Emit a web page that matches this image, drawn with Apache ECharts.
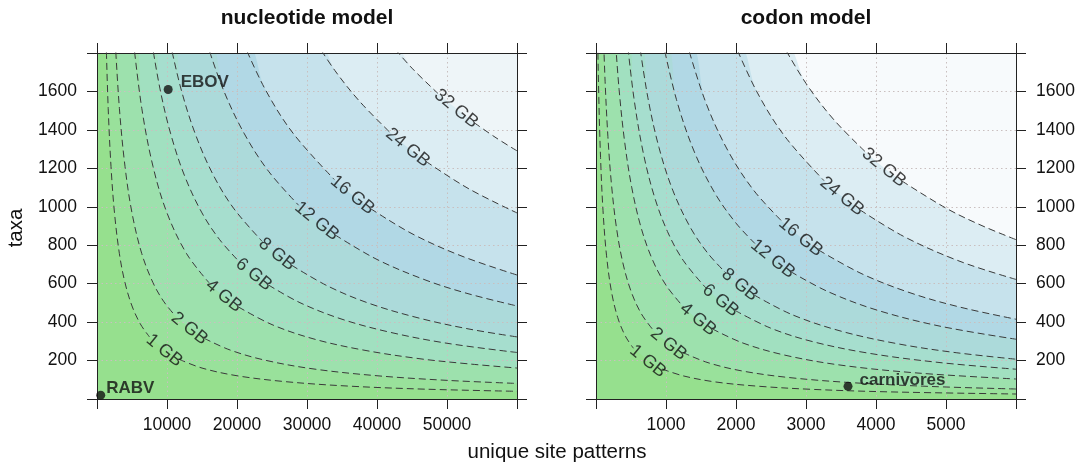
<!DOCTYPE html>
<html><head><meta charset="utf-8">
<script src="https://cdn.jsdelivr.net/npm/echarts@6/dist/echarts.min.js"></script>
<style>html,body{margin:0;padding:0;background:#fff}#c{width:1085px;height:466px}</style>
</head><body><div id="c"></div>
<script>
// ---- data ----
const levels = [1, 2, 4, 6, 8, 12, 16, 24, 32];           // GB contour levels
const nucXTickLabels = [10000, 20000, 30000, 40000, 50000];
const codXTickLabels = [1000, 2000, 3000, 4000, 5000];
const yTickLabels = [200, 400, 600, 800, 1000, 1200, 1400, 1600];

// nucleotide model contours: [unique site patterns, taxa]; null = gap under the label
const nuc1GB = [[1300,1862],[1600,1512],[2000,1210],[2500,968],[3200,756],[4000,605],[5000,484],[6200,390],[7500,323],null,[11700,207],[15000,161],[20000,121],[27000,90],[36000,67],[47000,51],[60000,40]];
const nuc2GB = [[2600,1862],[3200,1512],[4000,1210],[5000,968],[6400,756],[8000,605],[9500,509],[11100,436],null,[15300,316],[19000,255],[24000,202],[31000,156],[40000,121],[50000,97],[60000,81]];
const nuc4GB = [[5200,1862],[6400,1512],[8000,1210],[10000,968],[12800,756],[16000,605],null,[20200,479],[25000,387],[31000,312],[38000,255],[46000,210],[53000,183],[60000,161]];
const nuc6GB = [[7800,1862],[9000,1613],[10500,1383],[12500,1162],[15000,968],[17500,830],[20300,715],null,[24500,593],[29000,501],[35000,415],[42000,346],[50000,290],[60000,242]];
const nuc8GB = [[10400,1862],[12000,1613],[14000,1383],[16500,1173],[19500,993],[23600,820],null,[27800,696],[33000,587],[39000,496],[46000,421],[53000,365],[60000,323]];
const nuc12GB = [[15600,1862],[18000,1613],[21000,1383],[24500,1185],[28800,1008],null,[34000,854],[40000,726],[47000,618],[53000,548],[60000,484]];
const nuc16GB = [[20800,1862],[24000,1613],[28000,1383],[33900,1142],null,[39100,990],[45000,860],[52000,745],[60000,645]];
const nuc24GB = [[31200,1862],[34000,1708],[37500,1549],[41800,1389],null,[47000,1236],[53000,1096],[60000,968]];
const nuc32GB = [[41600,1862],[45000,1721],[48700,1590],null,[53900,1437],[57000,1359],[60000,1291]];
const nucLabelX = [9600, 13200, 18100, 22400, 25700, 31400, 36500, 44400, 51300];
const nucLabelY = [252, 367, 535, 648, 753, 925, 1061, 1308, 1510];
const nucPointNames = ['RABV', 'EBOV'];
const nucPointX = [530, 10170];
const nucPointY = [20, 1610];

// codon model contours
const cod1GB = [[22,1915],[40,1570],[65,1256],[100,981],[150,748],[220,561],[310,424],[420,327],[535,264],null,[945,156],[1250,120],[1700,89],[2300,67],[3100,50],[4200,37],[6000,26]];
const cod2GB = [[100,1963],[130,1653],[170,1365],[220,1121],[290,897],[380,714],[500,561],[650,442],[830,353],null,[1240,242],[1600,189],[2100,145],[2800,110],[3700,84],[4800,65],[6000,52]];
const cod4GB = [[270,1903],[330,1610],[410,1336],[510,1102],[640,897],[800,730],[1000,592],[1250,479],null,[1660,365],[2100,291],[2700,228],[3500,176],[4600,135],[6000,104]];
const cod6GB = [[440,1884],[540,1570],[670,1290],[830,1058],[1020,872],[1250,719],[1575,576],null,[1985,461],[2500,368],[3100,298],[3900,238],[4900,190],[6000,155]];
const cod8GB = [[610,1875],[740,1570],[900,1308],[1100,1083],[1350,891],[1600,757],[1850,658],null,[2260,541],[2800,439],[3500,353],[4300,288],[5100,243],[6000,207]];
const cod12GB = [[950,1865],[1150,1557],[1400,1290],[1700,1070],[2000,915],[2270,809],null,[2780,663],[3300,561],[4000,464],[4900,380],[6000,311]];
const cod16GB = [[1290,1861],[1560,1551],[1880,1295],[2250,1087],[2666,921],null,[3180,775],[3800,651],[4500,551],[5200,478],[6000,415]];
const cod24GB = [[1960,1865],[2300,1597],[2700,1365],[3257,1136],null,[3771,984],[4400,845],[5200,716],[6000,622]];
const cod32GB = [[2640,1861],[3000,1642],[3400,1452],[3857,1283],null,[4371,1134],[5000,993],[5500,904],[6000,829]];
const codLabelX = [740, 1036, 1457, 1780, 2054, 2526, 2923, 3514, 4114];
const codLabelY = [196, 286, 414, 512, 594, 729, 842, 1054, 1204];
const codPointNames = ['carnivores'];
const codPointX = [3600];
const codPointY = [66];

// ---- styling ----
const FONT = 'Liberation Sans, Arial, Helvetica, sans-serif';
const TXT = '#111111';
const bandColors = ['#96E08E','#99E19B','#9DE1AD','#A1E0C0','#A6DECE','#ACDADA','#B1D8E5','#C6E2EC','#DCEDF3'];
const nucTopColor = '#EEF5F8';
const codTopColor = '#F7FAFC';
const nucContours = [nuc1GB, nuc2GB, nuc4GB, nuc6GB, nuc8GB, nuc12GB, nuc16GB, nuc24GB, nuc32GB];
const codContours = [cod1GB, cod2GB, cod4GB, cod6GB, cod8GB, cod12GB, cod16GB, cod24GB, cod32GB];
const pointLabelStyle = {RABV: {distance: 1, offset: [0, -7]}, EBOV: {distance: 8, offset: [0, -7]}, carnivores: {distance: 7, offset: [0, -6]}};

function segments(arr) {
  const segs = [[]];
  arr.forEach(p => { if (p === null) segs.push([]); else segs[segs.length - 1].push(p); });
  return segs;
}

function panelSeries(xi, yi, contours, labX, labY, names, px, py) {
  const out = [];
  for (let i = contours.length - 1; i >= 0; i--) {
    const pts = contours[i].filter(p => p !== null);
    out.push({
      type: 'line', xAxisIndex: xi, yAxisIndex: yi, z: 1, silent: true,
      smooth: 0.35, symbol: 'none', clip: true,
      data: [[0, pts[0][1]]].concat(pts),
      lineStyle: {width: 0, opacity: 0},
      areaStyle: {color: bandColors[i], opacity: 1}
    });
  }
  contours.forEach(c => {
    segments(c).forEach(seg => {
      out.push({
        type: 'line', xAxisIndex: xi, yAxisIndex: yi, z: 4, silent: true,
        smooth: 0.35, symbol: 'none', clip: true, data: seg,
        lineStyle: {color: '#3a3a3a', width: 1, type: [7, 4]}
      });
    });
  });
  out.push({
    type: 'scatter', xAxisIndex: xi, yAxisIndex: yi, z: 5, silent: true,
    symbolSize: 1, itemStyle: {color: 'rgba(0,0,0,0)'},
    data: labX.map((x, i) => ({value: [x, labY[i]], label: {formatter: levels[i] + ' GB'}})),
    label: {show: true, position: 'inside', rotate: -39, fontSize: 18, color: TXT, fontFamily: FONT}
  });
  out.push({
    type: 'scatter', xAxisIndex: xi, yAxisIndex: yi, z: 6, silent: true,
    symbolSize: 9, itemStyle: {color: '#111'},
    data: names.map((n, i) => ({name: n, value: [px[i], py[i]],
      label: {distance: pointLabelStyle[n].distance, offset: pointLabelStyle[n].offset}})),
    label: {show: true, position: 'right', formatter: '{b}', fontSize: 17, fontWeight: 'bold', color: TXT, fontFamily: FONT}
  });
  return out;
}

function xAxes(gi, max, interval, labels) {
  const common = {type: 'value', gridIndex: gi, min: 0, max: max, interval: interval, z: 3,
    axisLine: {show: true, onZero: false, lineStyle: {color: '#222', width: 1}},
    axisTick: {show: true, inside: false, length: 10, lineStyle: {color: '#222'}}};
  return [
    Object.assign({}, common, {position: 'bottom',
      axisLabel: {show: true, margin: 17, fontSize: 17.5, color: TXT, fontFamily: FONT,
        formatter: v => labels.includes(v) ? String(v) : ''},
      splitLine: {show: true, lineStyle: {color: '#c9bfbf', width: 1, type: [1.5, 3]}}}),
    Object.assign({}, common, {position: 'top', axisLabel: {show: false}, splitLine: {show: false}})
  ];
}
function yAxes(gi, labelSide) {
  const common = {type: 'value', gridIndex: gi, min: 0, max: 1800, interval: 200, z: 3,
    axisLine: {show: true, onZero: false, lineStyle: {color: '#222', width: 1}},
    axisTick: {show: true, inside: false, length: 10, lineStyle: {color: '#222'}}};
  const lab = {show: true, margin: 20, fontSize: 17.5, color: TXT, fontFamily: FONT,
    formatter: v => yTickLabels.includes(v) ? String(v) : ''};
  return [
    Object.assign({}, common, {position: 'left', axisLabel: labelSide === 'left' ? lab : {show: false},
      splitLine: {show: true, lineStyle: {color: '#c9bfbf', width: 1, type: [1.5, 3]}}}),
    Object.assign({}, common, {position: 'right', axisLabel: labelSide === 'right' ? lab : {show: false},
      splitLine: {show: false}})
  ];
}

const chart = echarts.init(document.getElementById('c'), null, {renderer: 'canvas'});
chart.setOption({
  animation: false,
  backgroundColor: '#ffffff',
  grid: [
    {left: 97, top: 53, width: 420, height: 346, show: true, backgroundColor: nucTopColor, borderWidth: 0},
    {left: 596, top: 53, width: 420, height: 346, show: true, backgroundColor: codTopColor, borderWidth: 0}
  ],
  xAxis: xAxes(0, 60000, 10000, nucXTickLabels).concat(xAxes(1, 6000, 1000, codXTickLabels)),
  yAxis: yAxes(0, 'left').concat(yAxes(1, 'right')),
  series: panelSeries(0, 0, nucContours, nucLabelX, nucLabelY, nucPointNames, nucPointX, nucPointY)
    .concat(panelSeries(2, 2, codContours, codLabelX, codLabelY, codPointNames, codPointX, codPointY)),
  graphic: [
    {type: 'text', x: 307, y: 18, style: {text: 'nucleotide model', font: 'bold 21px ' + FONT, fill: TXT, align: 'center', verticalAlign: 'middle'}},
    {type: 'text', x: 806, y: 18, style: {text: 'codon model', font: 'bold 21px ' + FONT, fill: TXT, align: 'center', verticalAlign: 'middle'}},
    {type: 'text', x: 557, y: 452, style: {text: 'unique site patterns', font: '20.5px ' + FONT, fill: TXT, align: 'center', verticalAlign: 'middle'}},
    {type: 'text', x: 16, y: 228, rotation: Math.PI / 2, style: {text: 'taxa', font: '20.5px ' + FONT, fill: TXT, align: 'center', verticalAlign: 'middle'}}
  ]
});
</script>
</body></html>
